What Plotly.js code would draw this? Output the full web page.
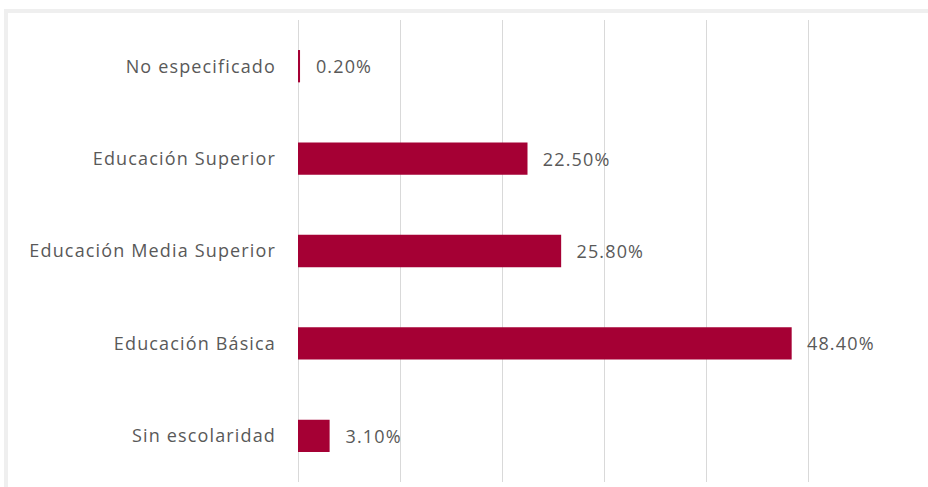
<!DOCTYPE html>
<html><head><meta charset="utf-8">
<script src="https://cdn.plot.ly/plotly-3.0.1.min.js"></script>
<style>
html,body{margin:0;padding:0;background:#fff;}
#wrap{position:relative;width:928px;height:487px;overflow:hidden;}
#chart{position:absolute;left:0;top:0;width:928px;height:487px;}
.strip{position:absolute;background:#efefef;}
#chart text{letter-spacing:1.15px;}
</style></head>
<body>
<div id="wrap">
<div id="chart"></div>
<div class="strip" style="left:4px;top:9px;width:924px;height:4px;"></div>
<div class="strip" style="left:4px;top:9px;width:4px;height:478px;"></div>
</div>
<script>
const categories = ["No especificado", "Educación Superior", "Educación Media Superior", "Educación Básica", "Sin escolaridad"];
const values = [0.2, 22.5, 25.8, 48.4, 3.1];
const labels = ["0.20%", "22.50%", "25.80%", "48.40%", "3.10%"];

Plotly.newPlot('chart', [{
  type: 'bar',
  orientation: 'h',
  y: categories,
  x: values,
  text: labels.map(s => '   ' + s),
  textposition: 'outside',
  cliponaxis: false,
  textfont: {family: 'Open Sans, sans-serif', size: 18, color: '#595959'},
  marker: {color: '#a50034'},
  hoverinfo: 'none'
}], {
  width: 928, height: 487,
  margin: {l: 298, r: 18, t: 20, b: 5, pad: 0},
  paper_bgcolor: '#fff', plot_bgcolor: '#fff',
  bargap: 0.65,
  showlegend: false,
  xaxis: {range: [0, 60], dtick: 10, showticklabels: false, showgrid: true,
          gridcolor: '#d9d9d9', gridwidth: 1, zeroline: true, zerolinecolor: '#d9d9d9',
          showline: false, ticks: '', fixedrange: true},
  yaxis: {autorange: 'reversed', showgrid: false, zeroline: false, showline: false, ticks: '',
          ticklabelstandoff: 21,
          tickfont: {family: 'Open Sans, sans-serif', size: 18, color: '#595959'}}
}, {staticPlot: true});
</script>
</body></html>
